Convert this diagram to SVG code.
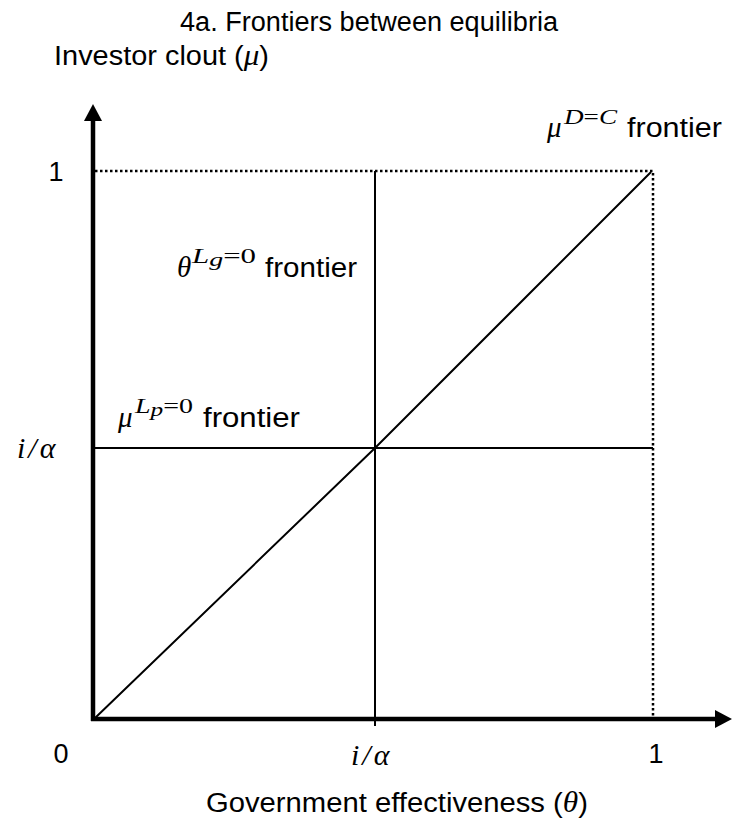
<svg xmlns="http://www.w3.org/2000/svg" width="735" height="821" viewBox="0 0 735 821">
<style>
.t { font-family: "Liberation Sans", Arial, sans-serif; font-size: 27px; fill: #000; }
.m { font-family: "Liberation Serif", "Times New Roman", serif; font-style: italic; font-size: 29px; fill: #000; }
.u { font-style: normal; }
.s { font-size: 21px; }
.ss { font-size: 19px; }
.ia { letter-spacing: 3px; font-size: 30px; }
.ax { stroke: #000; stroke-width: 4.5; fill: none; }
.ln { stroke: #000; stroke-width: 2; fill: none; }
.dt { stroke: #000; stroke-width: 2.5; stroke-dasharray: 2.5 2.5; fill: none; }
</style>
<defs>
<marker id="ah" markerUnits="userSpaceOnUse" markerWidth="17" markerHeight="18" refX="1" refY="9" orient="auto">
<path d="M0,0 L17,9 L0,18 Z" fill="#000"/>
</marker>
</defs>
<rect width="735" height="821" fill="#fff"/>
<g id="title">
<text class="t" x="369" y="31" text-anchor="middle" textLength="378" lengthAdjust="spacingAndGlyphs">4a. Frontiers between equilibria</text>
</g>
<g id="connectors">
<path class="ln" d="M94,719 L375,448 L651,172" stroke-width="2.5"/>
<line class="ln" x1="375" y1="171" x2="375" y2="726"/>
<line class="ln" x1="93" y1="448" x2="653" y2="448"/>
<line class="dt" x1="95" y1="171" x2="653" y2="171"/>
<line class="dt" x1="653" y1="173" x2="653" y2="717"/>
<line class="ax" x1="93" y1="721" x2="93" y2="120" marker-end="url(#ah)"/>
<line class="ax" x1="91" y1="719" x2="716" y2="719" marker-end="url(#ah)"/>
</g>
<g id="y-axis-label">
<text class="t" x="54" y="65" textLength="215" lengthAdjust="spacingAndGlyphs">Investor clout (<tspan class="m">μ</tspan>)</text>
</g>
<g id="x-axis-label">
<text class="t" x="206" y="812" textLength="382" lengthAdjust="spacingAndGlyphs">Government effectiveness (<tspan class="m">θ</tspan>)</text>
</g>
<g id="tick-labels">
<text class="t" x="56" y="181" text-anchor="middle">1</text>
<text class="m ia" x="17" y="458">i/α</text>
<text class="t" x="61" y="763" text-anchor="middle">0</text>
<text class="m ia" x="351" y="765">i/α</text>
<text class="t" x="656" y="763" text-anchor="middle">1</text>
</g>
<g id="label-dc">
<text class="m" x="547" y="137">μ</text>
<text class="m s" x="564" y="124" textLength="53" lengthAdjust="spacingAndGlyphs">D<tspan class="u">=</tspan>C</text>
<text class="t" x="627" y="137" textLength="95" lengthAdjust="spacingAndGlyphs">frontier</text>
</g>
<g id="label-lg">
<text class="m" x="177" y="277">θ</text>
<text class="m s" x="192" y="263" textLength="64" lengthAdjust="spacingAndGlyphs">L<tspan class="ss" dy="3">g</tspan><tspan class="u" dy="-3">=0</tspan></text>
<text class="t" x="265" y="277" textLength="92" lengthAdjust="spacingAndGlyphs">frontier</text>
</g>
<g id="label-lp">
<text class="m" x="118" y="427">μ</text>
<text class="m s" x="135" y="413" textLength="58" lengthAdjust="spacingAndGlyphs">L<tspan class="ss" dy="3">p</tspan><tspan class="u" dy="-3">=0</tspan></text>
<text class="t" x="203" y="427" textLength="97" lengthAdjust="spacingAndGlyphs">frontier</text>
</g>
</svg>
